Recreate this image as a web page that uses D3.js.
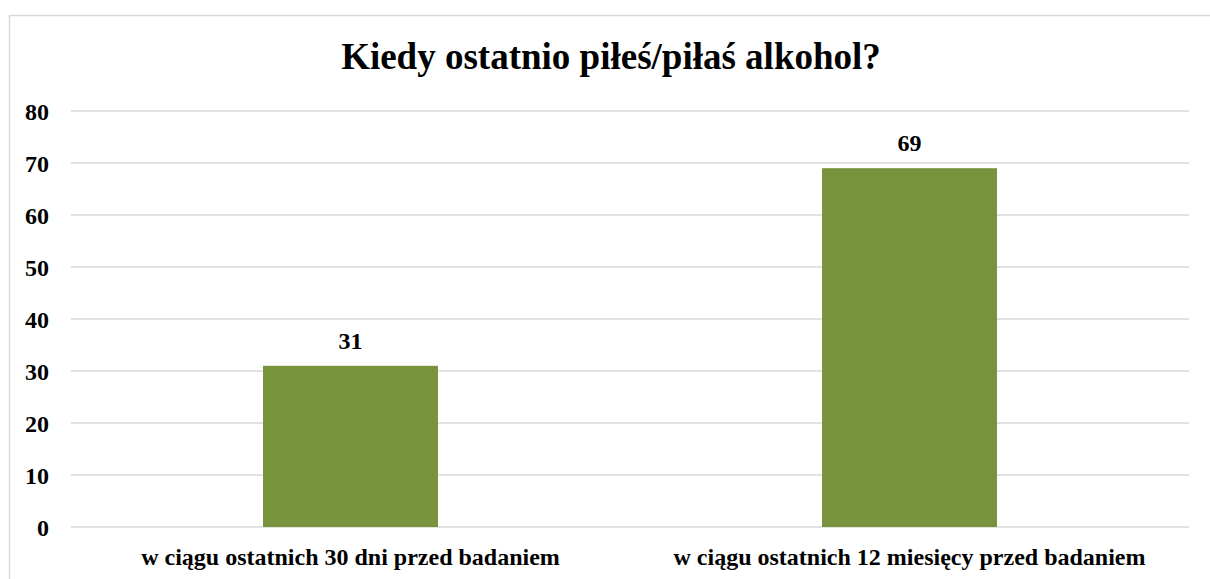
<!DOCTYPE html>
<html>
<head>
<meta charset="utf-8">
<script src="https://cdn.jsdelivr.net/npm/d3@7"></script>
<style>
  html, body { margin: 0; padding: 0; background: #fff; }
  svg { display: block; }
  text { font-family: "Liberation Serif", "Times New Roman", serif; font-weight: bold; fill: #000; }
</style>
</head>
<body>
<svg id="chart" width="1210" height="579"></svg>
<script>
const title = "Kiedy ostatnio piłeś/piłaś alkohol?";
const categories = ["w ciągu ostatnich 30 dni przed badaniem", "w ciągu ostatnich 12 miesięcy przed badaniem"];
const values = [31, 69];
const yTicks = [0, 10, 20, 30, 40, 50, 60, 70, 80];

const svg = d3.select("#chart");
const W = 1210, H = 579;
const margin = { left: 71, right: 21, top: 111, bottom: 52 };
const plotW = W - margin.left - margin.right;
const plotH = H - margin.top - margin.bottom;

// chart frame
svg.append("rect")
  .attr("x", 9.5).attr("y", 15.5)
  .attr("width", 1300).attr("height", 700)
  .attr("fill", "#fff").attr("stroke", "#d9d9d9").attr("stroke-width", 1.5);

svg.append("text")
  .attr("x", 611).attr("y", 69)
  .attr("text-anchor", "middle")
  .style("font-size", "37px")
  .text(title);

const g = svg.append("g").attr("transform", `translate(${margin.left},${margin.top})`);

const x = d3.scaleBand().domain(categories).range([0, plotW]).padding(0);
const y = d3.scaleLinear().domain([0, 80]).range([plotH, 0]);

// gridlines
g.append("g").selectAll("line").data(yTicks).join("line")
  .attr("x1", 0).attr("x2", plotW)
  .attr("y1", d => y(d)).attr("y2", d => y(d))
  .attr("stroke", "#d9d9d9").attr("stroke-width", 1.5);

// y axis labels
const yAxis = d3.axisLeft(y).tickValues(yTicks).tickSize(0).tickPadding(22);
const ya = g.append("g").call(yAxis);
ya.select(".domain").remove();
ya.selectAll("text").style("font-size", "24px").attr("font-family", null).attr("dy", "0.34em");

// bars
const barW = x.bandwidth() * 0.313;
g.selectAll("rect.bar").data(values).join("rect")
  .attr("class", "bar")
  .attr("x", (d, i) => x(categories[i]) + (x.bandwidth() - barW) / 2)
  .attr("y", d => y(d))
  .attr("width", barW)
  .attr("height", d => y(0) - y(d))
  .attr("fill", "#77933c");

// value labels
g.selectAll("text.val").data(values).join("text")
  .attr("class", "val")
  .attr("x", (d, i) => x(categories[i]) + x.bandwidth() / 2)
  .attr("y", d => y(d) - 17)
  .attr("text-anchor", "middle")
  .style("font-size", "24px")
  .text(d => d);

// x axis labels
const xAxis = d3.axisBottom(x).tickSize(0).tickPadding(21);
const xa = g.append("g").attr("transform", `translate(0,${plotH})`).call(xAxis);
xa.select(".domain").remove();
xa.selectAll("text").style("font-size", "24px").attr("font-family", null);
</script>
</body>
</html>
